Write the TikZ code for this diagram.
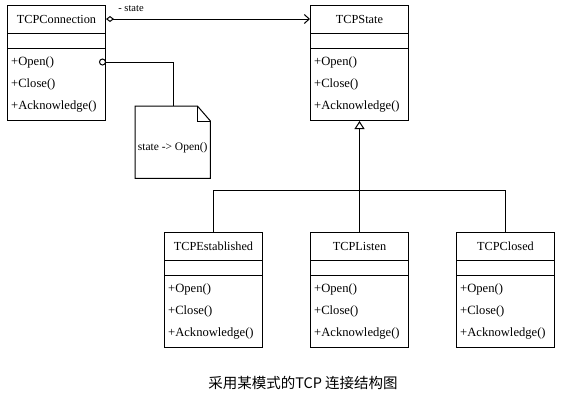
\documentclass[tikz,border=0pt]{standalone}
\usepackage{fontspec}
\setmainfont{Liberation Serif}
\newfontfamily\cjk{Noto Sans CJK SC}
\usetikzlibrary{arrows.meta,calc}
\newcommand{\umlcls}[7]{%
  \node[classbox] (#1) at (#2,#3) {};
  \node[ctitle] (#1t) at ($(#1.north)+(0,14)$) {#4};
  \draw[cline] ($(#1.north west)+(0,28)$) -- ($(#1.north east)+(0,28)$);
  \draw[cline] ($(#1.north west)+(0,43)$) -- ($(#1.north east)+(0,43)$);
  \node[meth] (#1a) at ($(#1.north west)+(4,57)$) {#5};
  \node[meth] (#1b) at ($(#1.north west)+(4,79)$) {#6};
  \node[meth] (#1c) at ($(#1.north west)+(4,101)$) {#7};
}
\begin{document}
\begin{tikzpicture}[x=1pt,y=-1pt,
  classbox/.style={draw,line width=1pt,minimum width=98pt,minimum height=115pt,anchor=north west,inner sep=0pt},
  cline/.style={line width=1pt},
  ctitle/.style={font=\fontsize{12.3}{14}\selectfont,inner sep=0pt},
  meth/.style={font=\fontsize{12.6}{14}\selectfont,anchor=west,inner sep=0pt},
  conn/.style={line width=1pt},
  lbl/.style={font=\fontsize{10.5}{12}\selectfont,inner sep=0pt}]
\useasboundingbox (0,0) rectangle (568,402);
\fill[white] (0,0) rectangle (568,402);

\umlcls{tconn}{7}{5}{TCPConnection}{+Open()}{+Close()}{+Acknowledge()}
\umlcls{tstate}{310}{5}{TCPState}{+Open()}{+Close()}{+Acknowledge()}
\umlcls{test}{164}{232}{TCPEstablished}{+Open()}{+Close()}{+Acknowledge()}
\umlcls{tlisten}{310}{232}{TCPListen}{+Open()}{+Close()}{+Acknowledge()}
\umlcls{tclosed}{456}{232}{TCPClosed}{+Open()}{+Close()}{+Acknowledge()}

% association
\draw[conn,{Diamond[open,length=8pt,width=6pt]}-{Straight Barb[length=5pt,width=9pt]}]
  (tconnt.center -| tconn.east) -- (tstatet.center -| tstate.west);
\node[lbl] (slbl) at (131,9) {- state};

% note
\node[inner sep=0pt,minimum width=75pt,minimum height=72pt,anchor=north west] (note) at (135,106) {};
\draw[conn,fill=white] (note.north west) -- ($(note.north east)+(-13,0)$) -- ($(note.north east)+(0,15)$)
  -- (note.south east) -- (note.south west) -- cycle;
\draw[conn] ($(note.north east)+(-13,0)$) -- ($(note.north east)+(-13,15)$) -- ($(note.north east)+(0,15)$);
\node[font=\fontsize{11.5}{13}\selectfont,inner sep=0pt] (notet) at ($(note.center)+(0,6)$) {state -> Open()};
\coordinate (nc) at ($(tconna.center -| tconn.east)+(-3.5,0)$);
\draw[conn] ($(nc)+(3,0)$) -| (note.north -| 173,0);
\draw[conn,fill=white] (nc) circle (3);

% inheritance
\coordinate (bus) at (358,190);
\draw[conn] (test.north) -- (test.north |- bus) -- (tclosed.north |- bus) -- (tclosed.north);
\draw[conn,-{Triangle[open,length=8pt,width=10pt,fill=white]}] (tlisten.north) -- (tstate.south);

% caption
\node[font=\cjk\fontsize{14.5}{16}\selectfont,inner sep=0pt] (cap) at (303,383) {采用某模式的TCP 连接结构图};
\end{tikzpicture}
\end{document}
